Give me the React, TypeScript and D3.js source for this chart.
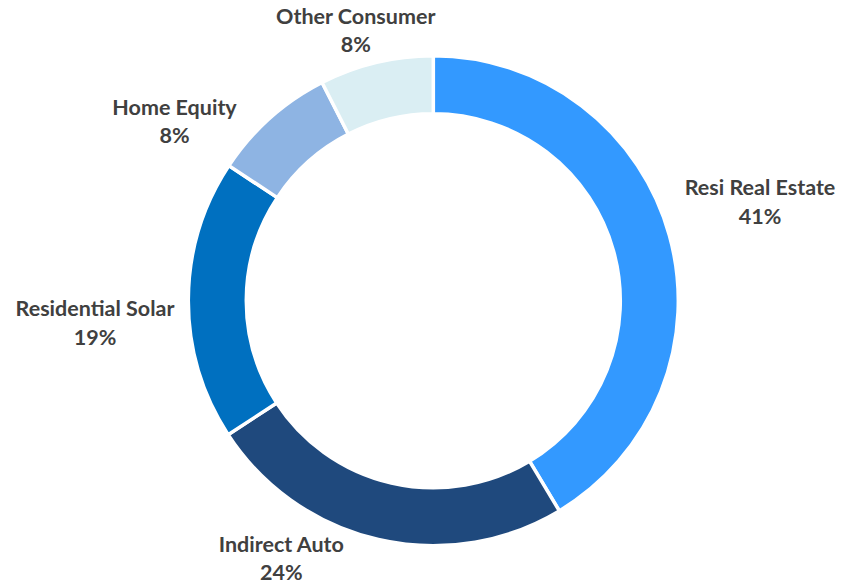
import React from 'react';
import * as d3 from 'd3';

const categories = ['Resi Real Estate', 'Indirect Auto', 'Residential Solar', 'Home Equity', 'Other Consumer'];
const shares = [41.4, 24.4, 18.5, 8.2, 7.5];
const percentLabels = ['41%', '24%', '19%', '8%', '8%'];
const colors = ['#3399FF', '#1F497D', '#0070C0', '#8EB4E3', '#DAEEF3'];
const labelNudges: [number, number][] = [[8.7, -3.6], [-78, -56.4], [-8.3, 30.7], [-39, 74], [-0.5, 58]];

export default function App() {
  const W = 841, H = 584;
  const cx = 433.3, cy = 300.8, R = 245, r = 187;
  const pie = d3.pie<number>().sort(null).value((d) => d);
  const arcs = pie(shares);
  const arc = d3.arc<d3.PieArcDatum<number>>().innerRadius(r).outerRadius(R);
  const labelArc = d3.arc<d3.PieArcDatum<number>>().innerRadius(330).outerRadius(330);

  return (
    <svg width={W} height={H} style={{ position: 'absolute', left: 0, top: 0, background: '#fff' }}
      fontFamily="Lato, 'Open Sans', sans-serif">
      <g transform={`translate(${cx},${cy})`}>
        {arcs.map((a, i) => (
          <path key={i} d={arc(a) || ''} fill={colors[i]} stroke="#fff" strokeWidth={3.5} strokeLinejoin="miter" />
        ))}
        {arcs.map((a, i) => {
          const [x, y] = labelArc.centroid(a);
          const lx = x + labelNudges[i][0];
          const ly = y + labelNudges[i][1];
          return (
            <text key={`l${i}`} x={lx} y={ly} textAnchor="middle" fill="#404040" fontWeight={700} fontSize={21.5}>
              <tspan x={lx} y={ly - 14}>{categories[i]}</tspan>
              <tspan x={lx} y={ly + 14.5}>{percentLabels[i]}</tspan>
            </text>
          );
        })}
      </g>
    </svg>
  );
}
